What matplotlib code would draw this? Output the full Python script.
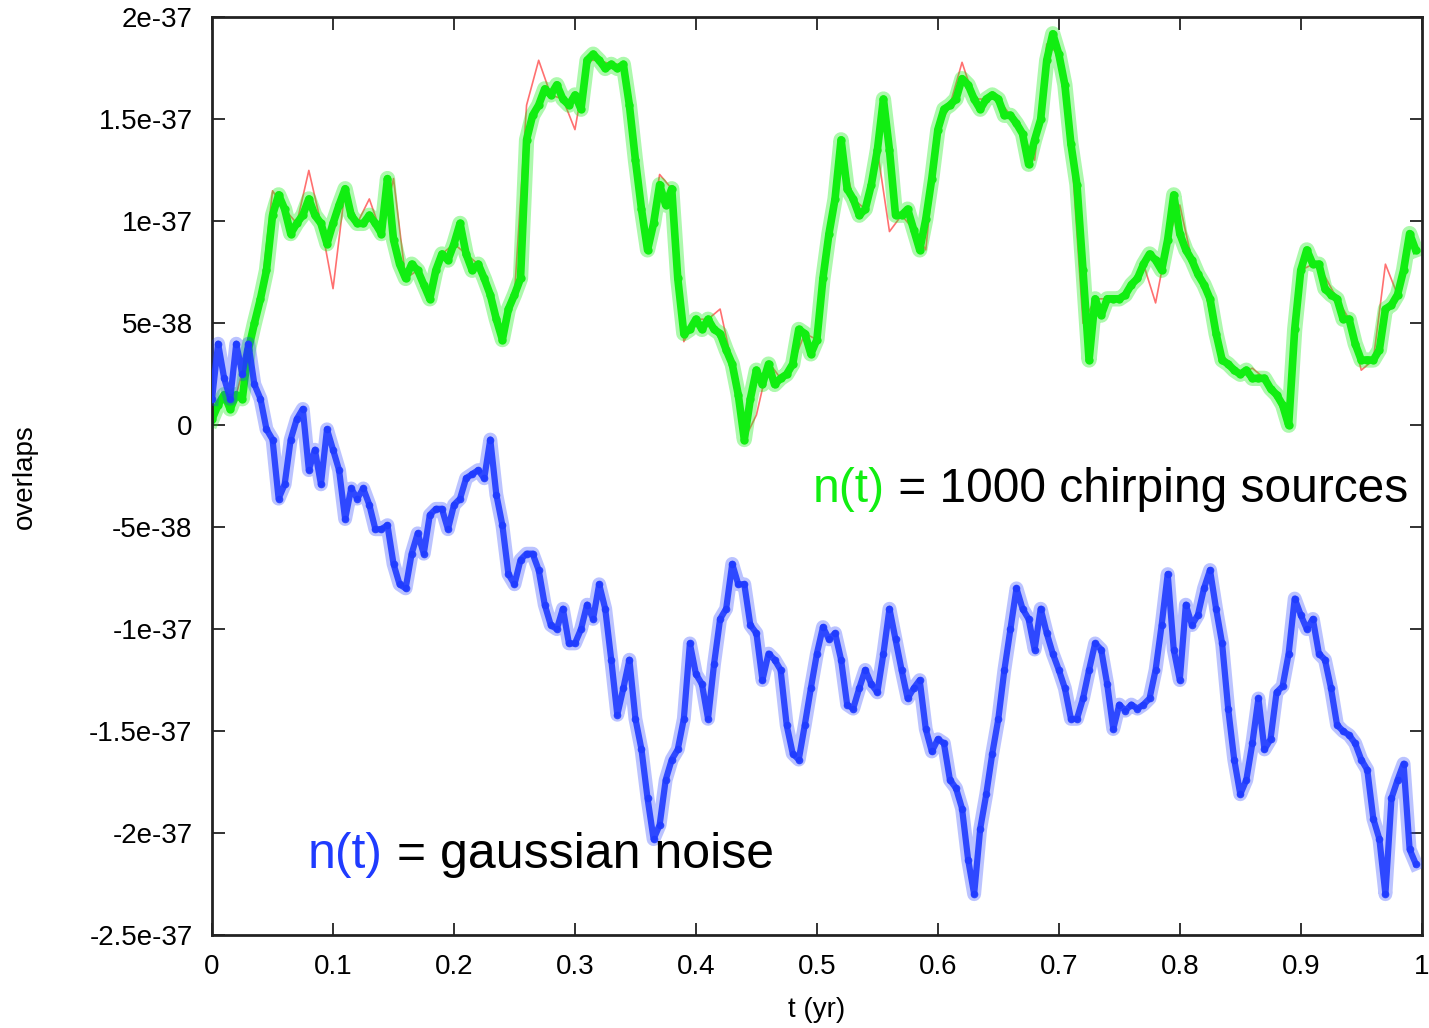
import matplotlib.pyplot as plt
import numpy as np

plt.rcParams['font.family'] = ['Liberation Sans', 'DejaVu Sans']

# overlap values are stored in units of 1e-38, sampled every 0.005 yr
UNIT = 1e-38
DT_FINE = 0.005
DT_COARSE = 0.01

chirp_overlap = [
    0.3, 1.0, 1.5, 0.8, 1.5, 1.3, 3.7, 5.0, 6.2, 7.6,
    10.3, 11.3, 10.6, 9.4, 9.9, 10.3, 11.1, 10.3, 9.9, 8.9,
    9.9, 10.8, 11.6, 10.3, 9.9, 9.9, 10.3, 9.9, 9.4, 12.1,
    9.1, 7.9, 7.2, 7.9, 7.6, 6.9, 6.2, 7.6, 8.4, 8.1,
    8.9, 9.9, 8.4, 7.6, 7.9, 7.2, 6.4, 5.2, 4.2, 5.7,
    6.4, 7.2, 14.0, 15.2, 15.7, 16.5, 16.2, 16.7, 16.0, 15.7,
    16.2, 15.5, 17.9, 18.2, 17.9, 17.5, 17.7, 17.5, 17.7, 15.7,
    13.0, 10.6, 8.6, 9.9, 11.8, 10.8, 11.6, 7.2, 4.5, 4.7,
    5.2, 4.7, 5.2, 4.7, 4.5, 3.7, 3.0, 1.5, -0.7, 1.3,
    2.7, 2.0, 3.0, 2.0, 2.3, 2.5, 3.0, 4.7, 4.5, 3.5,
    4.2, 7.2, 9.4, 11.1, 14.0, 11.6, 11.1, 10.3, 10.6, 11.8,
    13.5, 16.0, 13.5, 10.3, 10.3, 10.6, 9.6, 8.6, 10.1, 12.1,
    14.5, 15.5, 15.7, 16.0, 17.0, 16.7, 16.0, 15.5, 16.0, 16.2,
    16.0, 15.2, 15.2, 14.8, 14.3, 12.8, 14.0, 15.0, 17.9, 19.2,
    18.2, 16.7, 13.8, 11.8, 7.6, 3.2, 6.2, 5.4, 6.2, 6.2,
    6.2, 6.4, 6.9, 7.2, 7.9, 8.4, 8.1, 7.6, 9.1, 11.3,
    9.4, 8.6, 8.1, 7.4, 6.9, 6.2, 4.5, 3.2, 3.0, 2.7,
    2.5, 2.7, 2.3, 2.3, 2.3, 1.8, 1.5, 1.0, 0.0, 4.7,
    7.6, 8.6, 7.9, 7.9, 6.7, 6.4, 6.2, 5.2, 5.2, 4.0,
    3.2, 3.2, 3.2, 3.7, 5.7, 5.9, 6.4, 7.6, 9.4, 8.6,
]

# noise-free chirp signal, sampled every 0.01 yr
chirp_signal = [
    0.3, 1.5, 1.5, 3.7, 6.2, 11.5, 10.6, 9.9, 12.5, 9.9,
    6.7, 11.6, 9.9, 11.1, 9.4, 12.1, 7.2, 7.6, 6.2, 8.4,
    8.9, 8.4, 7.9, 6.4, 4.2, 6.4, 15.7, 17.9, 16.2, 16.0,
    14.5, 17.9, 17.9, 17.7, 17.7, 13.0, 8.6, 12.3, 11.6, 4.1,
    5.2, 5.2, 5.7, 3.0, -0.7, 0.5, 3.1, 2.3, 3.0, 4.5,
    4.2, 9.4, 13.7, 11.1, 10.6, 13.5, 9.5, 10.3, 9.6, 8.6,
    14.5, 15.7, 17.8, 16.0, 16.0, 16.0, 15.2, 14.3, 13.0, 18.7,
    18.2, 13.8, 5.0, 6.2, 6.2, 6.2, 6.9, 7.9, 6.0, 9.1,
    10.8, 8.1, 6.9, 4.1, 3.0, 2.5, 2.8, 2.3, 1.3, 0.0,
    7.6, 7.9, 7.3, 6.2, 5.2, 2.7, 3.2, 7.9, 6.4, 9.4,
]

noise_overlap = [
    1.3, 4.0, 2.3, 1.3, 4.0, 2.5, 4.0, 2.0, 1.3, -0.2,
    -0.7, -3.6, -2.9, -0.7, 0.3, 0.8, -2.2, -1.2, -2.9, -0.2,
    -1.2, -2.2, -4.6, -3.1, -3.6, -3.1, -3.9, -5.1, -5.1, -4.9,
    -6.8, -7.8, -8.0, -6.3, -5.3, -6.3, -4.4, -4.1, -4.1, -5.1,
    -3.9, -3.6, -2.6, -2.4, -2.2, -2.6, -0.7, -3.4, -4.9, -7.3,
    -7.8, -6.6, -6.3, -6.3, -7.1, -8.8, -9.8, -10.0, -9.0, -10.7,
    -10.7, -10.0, -8.8, -9.5, -7.8, -9.0, -11.5, -14.2, -12.9, -11.5,
    -14.4, -15.9, -18.3, -20.3, -19.6, -17.4, -16.4, -15.9, -14.4, -10.7,
    -12.2, -12.7, -14.4, -11.7, -9.5, -9.0, -6.8, -7.8, -7.8, -9.8,
    -10.2, -12.5, -11.2, -11.5, -12.0, -14.7, -16.1, -16.4, -14.7, -12.9,
    -11.2, -9.9, -10.5, -10.2, -11.5, -13.7, -13.9, -12.9, -12.0, -12.7,
    -13.1, -11.2, -9.0, -10.5, -12.0, -13.4, -12.9, -12.5, -14.9, -16.0,
    -15.4, -15.6, -17.4, -17.8, -18.8, -21.3, -23.0, -19.8, -18.1, -16.1,
    -14.4, -12.0, -10.0, -8.0, -9.0, -9.5, -11.0, -9.0, -10.2, -11.2,
    -12.0, -12.9, -14.4, -14.4, -13.4, -12.0, -10.7, -11.0, -12.7, -14.9,
    -13.7, -14.0, -13.7, -13.9, -13.7, -13.4, -12.0, -9.8, -7.3, -11.0,
    -12.5, -8.8, -9.8, -9.3, -8.0, -7.1, -9.0, -10.7, -13.9, -16.4,
    -18.1, -17.4, -15.6, -13.4, -15.9, -15.4, -13.1, -12.8, -11.2, -8.5,
    -9.3, -10.0, -9.5, -11.2, -11.5, -12.9, -14.7, -15.0, -15.2, -15.6,
    -16.4, -16.9, -19.3, -20.3, -23.0, -18.3, -17.4, -16.6, -20.8, -21.5,
]

x_ticks = [0, 0.1, 0.2, 0.3, 0.4, 0.5, 0.6, 0.7, 0.8, 0.9, 1.0]
x_tick_labels = ['0', '0.1', '0.2', '0.3', '0.4', '0.5', '0.6', '0.7', '0.8', '0.9', '1']
y_ticks = [2e-37, 1.5e-37, 1e-37, 5e-38, 0, -5e-38, -1e-37, -1.5e-37, -2e-37, -2.5e-37]
y_tick_labels = ['2e-37', '1.5e-37', '1e-37', '5e-38', '0', '-5e-38', '-1e-37',
                 '-1.5e-37', '-2e-37', '-2.5e-37']

GREEN = '#11ee11'
BLUE = '#1f3bff'
RED = '#ff7070'

t_fine = np.arange(len(chirp_overlap)) * DT_FINE
t_coarse = np.arange(len(chirp_signal)) * DT_COARSE
chirp = np.array(chirp_overlap) * UNIT
signal = np.array(chirp_signal) * UNIT
noise = np.array(noise_overlap) * UNIT

fig = plt.figure(figsize=(14.29, 10.28), dpi=100)
ax = fig.add_axes([0.1484, 0.0905, 0.8465, 0.8925])

ax.plot(t_coarse, signal, color=RED, lw=1.2, zorder=1)

# wide translucent band under a solid core gives the scattered-point look
ax.plot(t_fine, chirp, color=GREEN, lw=11, alpha=0.35, solid_joinstyle='round',
        zorder=2)
ax.plot(t_fine, chirp, color=GREEN, lw=5.5, marker='o', ms=6, mew=0,
        solid_joinstyle='round', zorder=2)
ax.plot(t_fine, noise, color=BLUE, lw=10, alpha=0.3, solid_joinstyle='round',
        zorder=3)
ax.plot(t_fine, noise, color=BLUE, lw=4.5, marker='o', ms=5.5, mew=0,
        alpha=0.9, solid_joinstyle='round', zorder=3)

ax.set_xlim(0, 1)
ax.set_ylim(-2.5e-37, 2e-37)
ax.set_xticks(x_ticks)
ax.set_xticklabels(x_tick_labels)
ax.set_yticks(y_ticks)
ax.set_yticklabels(y_tick_labels)

ax.tick_params(direction='in', length=9, width=1.3, color='#222222',
               labelsize=20, top=True, right=True, pad=14)
for side in ax.spines.values():
    side.set_linewidth(2.0)
    side.set_color('#222222')

ax.set_xlabel('t (yr)', fontsize=20, va='center')
ax.xaxis.set_label_coords(0.5, -0.082)
ax.set_ylabel('overlaps', fontsize=20, va='center')
ax.yaxis.set_label_coords(-0.1545, 0.5)

# legend-style annotations: coloured n(t) followed by black description
lab1 = ax.text(0.497, -3.75e-38, 'n(t)', color=GREEN, fontsize=34.5,
               va='baseline', ha='left', zorder=5)
ax.annotate(' = 1000 chirping sources', xy=(1, 0), xycoords=lab1,
            va='bottom', ha='left', fontsize=34.5, color='black', zorder=5)

lab2 = ax.text(0.079, -2.17e-37, 'n(t)', color=BLUE, fontsize=36,
               va='baseline', ha='left', zorder=5)
ax.annotate(' = gaussian noise', xy=(1, 0), xycoords=lab2,
            va='bottom', ha='left', fontsize=36, color='black', zorder=5)

fig.savefig('out.png', dpi=100)
